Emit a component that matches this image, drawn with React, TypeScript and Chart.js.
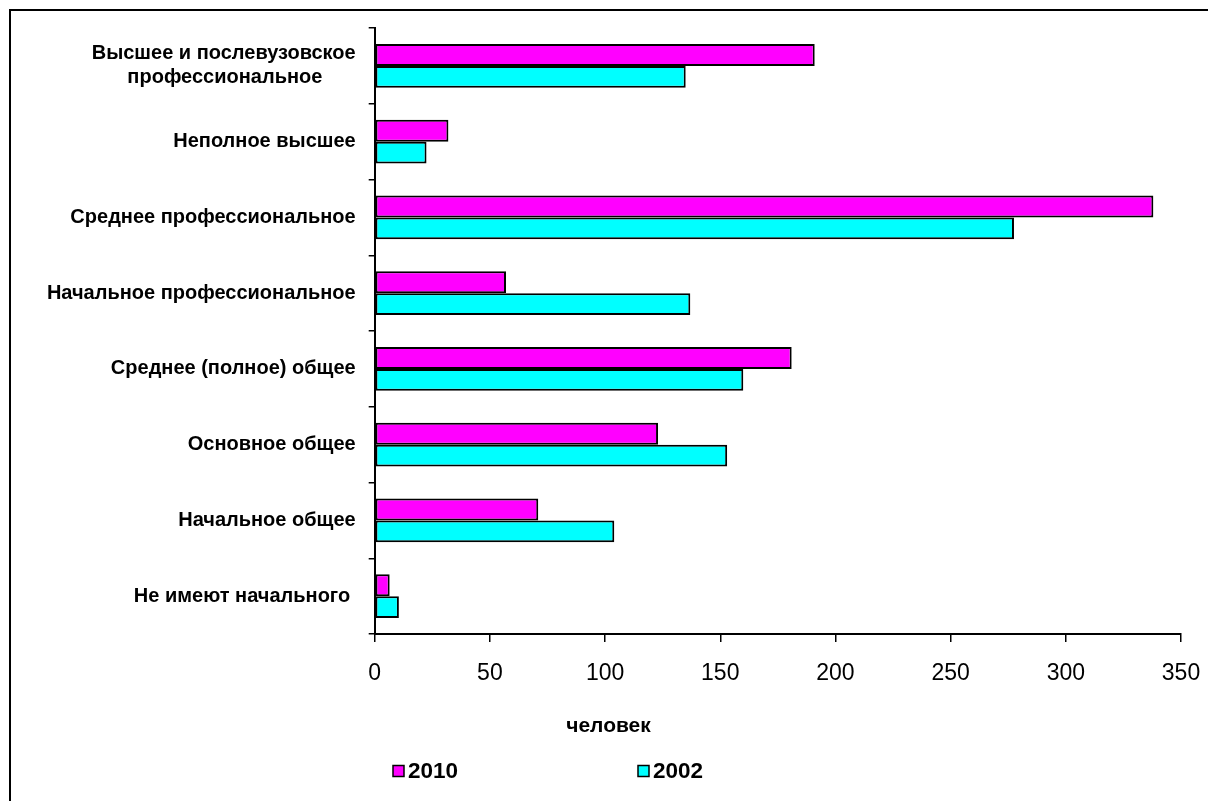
import React, { useEffect, useRef } from "react";
import { Chart, registerables } from "chart.js";

Chart.register(...registerables);

const categories: (string | string[])[] = [
  ["Высшее и послевузовское", "профессиональное"],
  "Неполное высшее",
  "Среднее профессиональное",
  "Начальное профессиональное",
  "Среднее (полное) общее",
  "Основное общее",
  "Начальное общее",
  "Не имеют начального ",
];
const values2010 = [191, 32, 338, 57, 181, 123, 71, 6.5];
const values2002 = [135, 22.5, 277.5, 137, 160, 153, 104, 10.5];
const seriesLabels = ["2010", "2002"];
const seriesColors = ["#FF00FF", "#00FFFF"];
const xMin = 0;
const xMax = 350;
const xStep = 50;
const axisTitle = "человек";

const FONT = "'Liberation Sans', Arial, sans-serif";
const LABEL_FONT_SIZE = 20;

function centerLines(lines: string[]): string[] {
  const c = document.createElement("canvas").getContext("2d");
  if (!c) return lines;
  c.font = `bold ${LABEL_FONT_SIZE}px ${FONT}`;
  const widths = lines.map((l) => c.measureText(l).width);
  const maxW = Math.max(...widths);
  const sp = c.measureText(" ").width;
  return lines.map((l, i) => {
    const n = Math.round((maxW - widths[i]) / 2 / sp);
    return l + " ".repeat(Math.max(0, n));
  });
}

const extrasPlugin = {
  id: "extras",
  afterDraw(chart: any) {
    const ctx = chart.ctx as CanvasRenderingContext2D;
    ctx.save();
    ctx.fillStyle = "#000";
    ctx.font = `bold 21px ${FONT}`;
    ctx.textAlign = "center";
    ctx.textBaseline = "middle";
    ctx.fillText(axisTitle, chart.width / 2 - 1, 715);

    const legendX = [382, 627];
    const legendY = 760;
    chart.data.datasets.forEach((ds: any, i: number) => {
      const x = legendX[i];
      ctx.fillStyle = ds.backgroundColor;
      ctx.fillRect(x, legendY - 5.5, 11, 11);
      ctx.lineWidth = 1.5;
      ctx.strokeStyle = "#000";
      ctx.strokeRect(x, legendY - 5.5, 11, 11);
      ctx.fillStyle = "#000";
      ctx.font = `bold 22.5px ${FONT}`;
      ctx.textAlign = "left";
      ctx.textBaseline = "middle";
      ctx.fillText(ds.label, x + 15, legendY + 1);
    });
    ctx.restore();
  },
};

export default function App() {
  const ref = useRef<HTMLCanvasElement | null>(null);

  useEffect(() => {
    if (!ref.current) return;
    const chart = new Chart(ref.current, {
      type: "bar",
      data: {
        labels: categories as any,
        datasets: [
          {
            label: seriesLabels[0],
            data: values2010,
            backgroundColor: seriesColors[0],
            borderColor: "#000",
            borderWidth: 2,
            borderSkipped: false,
          },
          {
            label: seriesLabels[1],
            data: values2002,
            backgroundColor: seriesColors[1],
            borderColor: "#000",
            borderWidth: 2,
            borderSkipped: false,
          },
        ],
      },
      options: {
        indexAxis: "y",
        responsive: false,
        animation: false,
        layout: { padding: { top: 17, right: 27, bottom: 107, left: 0 } },
        datasets: {
          bar: { categoryPercentage: 0.58, barPercentage: 1.0 },
        },
        plugins: {
          legend: { display: false },
          tooltip: { enabled: false },
          title: { display: false },
        },
        scales: {
          x: {
            type: "linear",
            min: xMin,
            max: xMax,
            ticks: {
              stepSize: xStep,
              color: "#000",
              font: { family: FONT, size: 23 },
              padding: 18,
              maxRotation: 0,
            },
            grid: {
              display: true,
              drawOnChartArea: false,
              drawTicks: true,
              tickLength: 8,
              color: "#000",
              lineWidth: 1.5,
            },
            border: { display: true, color: "#000", width: 2 },
            afterFit: (scale: any) => {
              scale.height = 60;
              scale.paddingLeft = 0;
              scale.paddingRight = 0;
            },
          },
          y: {
            type: "category",
            ticks: {
              color: "#000",
              font: { family: FONT, size: LABEL_FONT_SIZE, weight: "bold" },
              padding: 13,
              autoSkip: false,
              callback: (_v: any, index: number) => {
                const lbl = categories[index];
                return Array.isArray(lbl) ? centerLines(lbl) : lbl;
              },
            },
            grid: {
              display: true,
              offset: true,
              drawOnChartArea: false,
              drawTicks: true,
              tickLength: 6,
              color: "#000",
              lineWidth: 1.5,
            },
            border: { display: true, color: "#000", width: 2 },
            afterFit: (scale: any) => {
              scale.width = 363.7;
              scale.paddingTop = 0;
              scale.paddingBottom = 0;
            },
          },
        },
      },
      plugins: [extrasPlugin],
    });
    return () => chart.destroy();
  }, []);

  return (
    <div
      style={{
        position: "fixed",
        left: 9,
        top: 9,
        width: 1300,
        height: 900,
        borderTop: "2px solid #000",
        borderLeft: "2px solid #000",
        background: "#fff",
      }}
    >
      <canvas ref={ref} width={1197} height={790} style={{ display: "block" }} />
    </div>
  );
}
